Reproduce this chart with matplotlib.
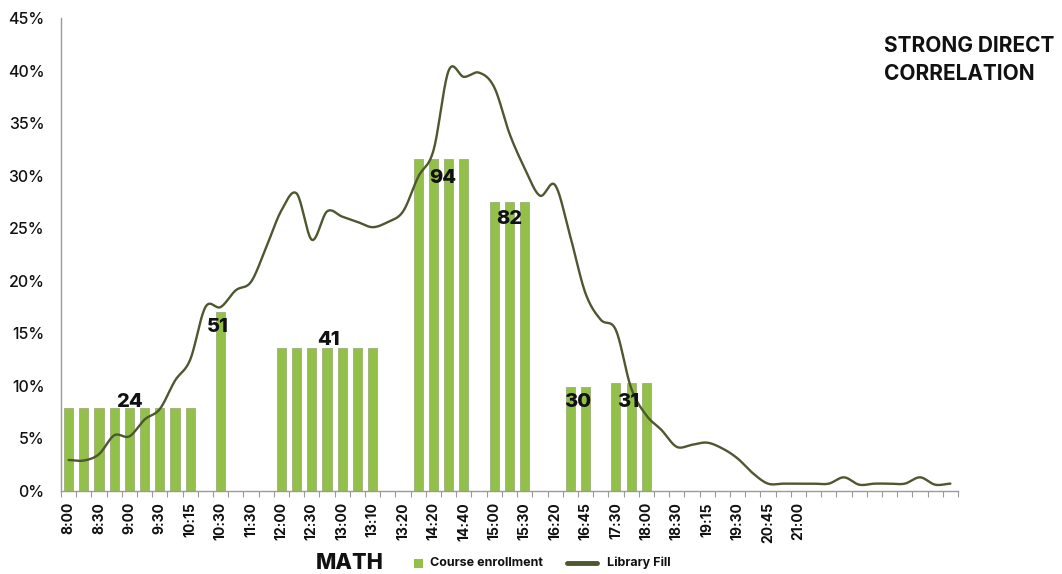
import numpy as np
import matplotlib
matplotlib.use("Agg")
import matplotlib.pyplot as plt
from matplotlib.patches import Rectangle
from matplotlib.lines import Line2D

plt.rcParams['font.family'] = ['Inter', 'DejaVu Sans']

# ---------------- data ----------------
TICK_LABELS = ["8:00", "8:30", "9:00", "9:30", "10:15", "10:30", "11:30", "12:00",
               "12:30", "13:00", "13:10", "13:20", "14:20", "14:40", "15:00", "15:30",
               "16:20", "16:45", "17:30", "18:00", "18:30", "19:15", "19:30", "20:45", "21:00"]

# course enrollment share (%) per time slot (0 = no course)
ENROLL_PCT = [7.9, 7.9, 7.9, 7.9, 7.9, 7.9, 7.9, 7.9, 7.9,
              0, 17.0, 0, 0, 0,
              13.6, 13.6, 13.6, 13.6, 13.6, 13.6, 13.6,
              0, 0,
              31.6, 31.6, 31.6, 31.6,
              0,
              27.5, 27.5, 27.5,
              0, 0,
              9.9, 9.9,
              0,
              10.3, 10.3, 10.3,
              0, 0, 0, 0, 0, 0, 0, 0, 0, 0, 0, 0, 0, 0, 0, 0, 0, 0, 0, 0]

# library fill (%) per time slot
LIBRARY_FILL = [2.95, 2.9, 3.5, 5.3, 5.2, 6.8, 7.8, 10.5, 12.5, 17.5,
                17.5, 19.1, 19.9, 23.2, 26.7, 28.3, 23.9, 26.6, 26.1, 25.6,
                25.1, 25.6, 26.6, 29.9, 32.4, 40.0, 39.4, 39.8, 38.4, 34.0,
                30.7, 28.1, 29.1, 24.2, 18.8, 16.3, 15.3, 9.8, 7.2, 5.8,
                4.2, 4.4, 4.6, 4.05, 3.1, 1.7, 0.7, 0.7, 0.7, 0.7,
                0.7, 1.3, 0.6, 0.7, 0.7, 0.7, 1.3, 0.6, 0.7]

# enrollment counts shown as labels
ENROLL_COUNTS = [24, 51, 41, 94, 82, 30, 31]

# ---------------- layout ----------------
LABEL_POS = [(4.0, 8.5), (9.8, 15.6), (17.1, 14.4), (24.6, 29.8),
             (29.0, 25.9), (33.5, 8.5), (36.8, 8.5)]

BAR_FACE = "#92c048"
BAR_EDGE = "#a3b57f"
LINE_COLOR = "#4d5730"
TEXT = "#111111"

fig = plt.figure(figsize=(10.62, 5.74), dpi=100)
ax = fig.add_axes([61 / 1062, 1 - 491 / 574, (958 - 61) / 1062, (491 - 18) / 574])

n = len(ENROLL_PCT)
x = np.arange(n)
vals = np.array(ENROLL_PCT, dtype=float)
mask = vals > 0
ax.bar(x[mask], vals[mask], width=0.6, color=BAR_FACE, edgecolor=BAR_EDGE, linewidth=0.7, zorder=2)


def catmull_rom(xs, ys, per=20):
    xs = np.asarray(xs, float)
    ys = np.asarray(ys, float)
    px = np.concatenate([[2 * xs[0] - xs[1]], xs, [2 * xs[-1] - xs[-2]]])
    py = np.concatenate([[ys[0]], ys, [ys[-1]]])
    out_x, out_y = [], []
    t = np.linspace(0, 1, per, endpoint=False)
    for i in range(1, len(px) - 2):
        for arr, p in ((out_x, px), (out_y, py)):
            p0, p1, p2, p3 = p[i - 1], p[i], p[i + 1], p[i + 2]
            arr.extend(0.5 * ((2 * p1) + (-p0 + p2) * t + (2 * p0 - 5 * p1 + 4 * p2 - p3) * t ** 2
                              + (-p0 + 3 * p1 - 3 * p2 + p3) * t ** 3))
    out_x.append(xs[-1])
    out_y.append(ys[-1])
    return np.array(out_x), np.array(out_y)


lx, ly = catmull_rom(x, LIBRARY_FILL)
ax.plot(lx, ly, color=LINE_COLOR, lw=1.7, zorder=3, solid_capstyle='round')

for cnt, (px, py) in zip(ENROLL_COUNTS, LABEL_POS):
    ax.text(px, py, str(cnt), ha='center', va='center', fontsize=14.5,
            fontweight='heavy', color=TEXT, zorder=4)

ax.set_xlim(-0.5, n - 0.5)
ax.set_ylim(0, 45)
ax.set_yticks(np.arange(0, 46, 5))
ax.set_yticklabels([f"{v}%" for v in range(0, 46, 5)], fontsize=11.5, fontweight='medium', color=TEXT)
ax.tick_params(axis='y', length=0, pad=12)

ax.set_xticks(np.arange(0, 2 * len(TICK_LABELS), 2))
ax.set_xticklabels(TICK_LABELS, rotation=90, fontsize=10, fontweight='bold', color=TEXT)
ax.tick_params(axis='x', which='major', length=0, pad=8)
ax.set_xticks(np.arange(-0.5, n, 1), minor=True)
ax.tick_params(axis='x', which='minor', length=4, width=0.8, color='#9a9a9a', direction='out')

for s in ['top', 'right']:
    ax.spines[s].set_visible(False)
for s in ['left', 'bottom']:
    ax.spines[s].set_color('#9a9a9a')
    ax.spines[s].set_linewidth(1.0)

# legend area
fig.text(350 / 1062, 1 - 563 / 574, "MATH", ha='center', va='center', fontsize=15.5,
         fontweight='heavy', color=TEXT)
fig.patches.append(Rectangle((414 / 1062, 1 - 568 / 574), 9 / 1062, 9 / 574,
                             transform=fig.transFigure, facecolor=BAR_FACE, edgecolor='none'))
fig.text(430 / 1062, 1 - 563 / 574, "Course enrollment", ha='left', va='center', fontsize=9,
         fontweight='bold', color=TEXT)
fig.lines.append(Line2D([567 / 1062, 597 / 1062], [1 - 563 / 574, 1 - 563 / 574],
                        transform=fig.transFigure, color=LINE_COLOR, lw=3.5, solid_capstyle='round'))
fig.text(607 / 1062, 1 - 563 / 574, "Library Fill", ha='left', va='center', fontsize=9,
         fontweight='bold', color=TEXT)

fig.text(884 / 1062, 1 - 60 / 574, "STRONG DIRECT\nCORRELATION", ha='left', va='center',
         fontsize=15, fontweight='bold', color=TEXT, linespacing=1.45)

fig.savefig("out.png", dpi=100)
